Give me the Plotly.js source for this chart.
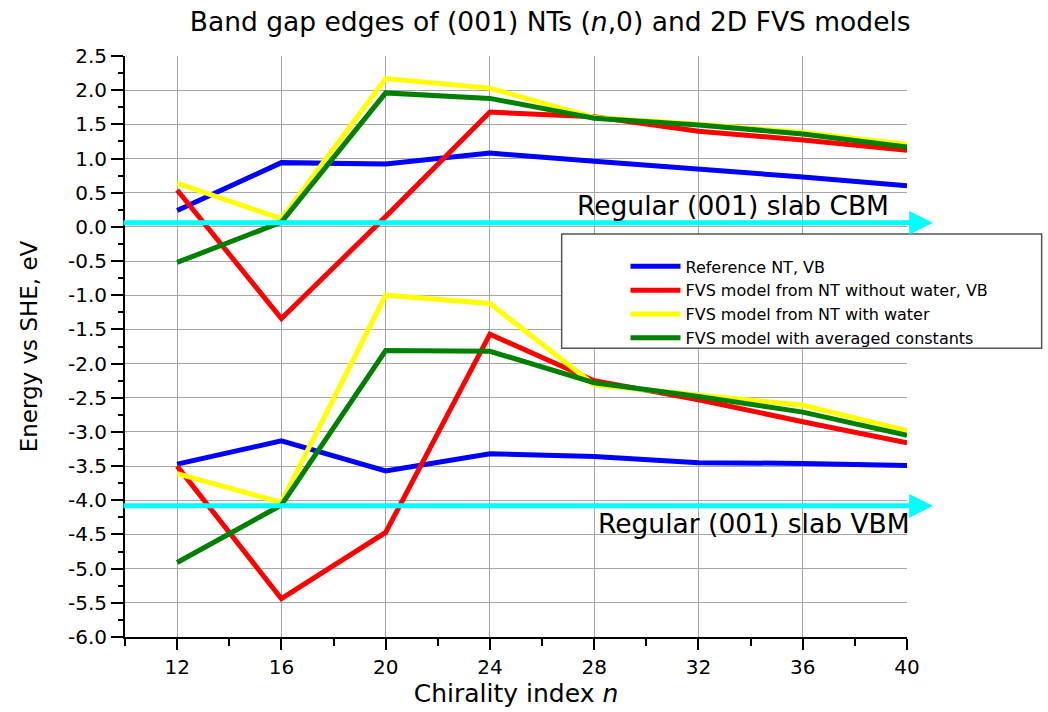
<!DOCTYPE html>
<html><head><meta charset="utf-8">
<script src="https://cdn.plot.ly/plotly-3.0.1.min.js"></script>
<style>html,body{margin:0;padding:0;background:#fff}#chart{width:1048px;height:712px}</style>
</head><body><div id="chart"></div>
<script>
// Chirality index n
const chirality = [12, 16, 20, 24, 28, 32, 36, 40];
// Conduction band (upper group) and valence band (lower group) edges, eV vs SHE
const refCB      = [0.24, 0.94, 0.92, 1.08, 0.96, 0.85, 0.73, 0.60];
const refVB      = [-3.47, -3.13, -3.57, -3.32, -3.36, -3.45, -3.46, -3.49];
const noWaterCB  = [0.54, -1.34, 0.15, 1.68, 1.61, 1.40, 1.27, 1.12];
const noWaterVB  = [-3.50, -5.44, -4.47, -1.57, -2.25, -2.53, -2.85, -3.16];
const waterCB    = [0.64, 0.12, 2.17, 2.03, 1.60, 1.50, 1.38, 1.21];
const waterVB    = [-3.61, -4.03, -1.00, -1.12, -2.31, -2.46, -2.61, -2.98];
const avgCB      = [-0.52, 0.07, 1.96, 1.88, 1.59, 1.49, 1.36, 1.17];
const avgVB      = [-4.91, -4.07, -1.81, -1.82, -2.28, -2.48, -2.71, -3.05];
const seriesNames = ['Reference NT, VB', 'FVS model from NT without water, VB',
                     'FVS model from NT with water', 'FVS model with averaged constants'];
const seriesColors = ['#0000FF', '#FF0000', '#FFFF00', '#008000'];
// Regular (001) slab band edges
const slabLevels = [0.06, -4.08];
const slabLabels = ['Regular (001) slab CBM', 'Regular (001) slab VBM'];
// y tick labels
const yTickVals = [];
for (let v = -6; v <= 2.5001; v += 0.5) yTickVals.push(Math.round(v * 10) / 10);
const yTickText = yTickVals.map(v => v.toFixed(1));

const cbSets = [refCB, noWaterCB, waterCB, avgCB];
const vbSets = [refVB, noWaterVB, waterVB, avgVB];
const traces = [];
for (let i = 0; i < 4; i++) {
  traces.push({x: chirality, y: cbSets[i], mode: 'lines', name: seriesNames[i],
    legendgroup: 'g' + i, showlegend: false,
    line: {color: seriesColors[i], width: 5}});
  traces.push({x: chirality, y: vbSets[i], mode: 'lines', name: seriesNames[i],
    legendgroup: 'g' + i, showlegend: true,
    line: {color: seriesColors[i], width: 5}});
}

const F = 'DejaVu Sans, Verdana, sans-serif';
const annotations = [];
slabLevels.forEach((lv) => {
  annotations.push({x: 1.0332, y: lv, xref: 'paper', yref: 'y', ax: -811, ay: 0,
    axref: 'pixel', ayref: 'pixel', text: '', showarrow: true, arrowhead: 2,
    arrowsize: 0.95, arrowwidth: 5, arrowcolor: '#00FFFF', standoff: 0, startstandoff: 0});
});
annotations.push({x: 0.98, y: 0.742, xref: 'paper', yref: 'paper', xanchor: 'right',
  yanchor: 'middle', showarrow: false, text: slabLabels[0], font: {family: F, size: 26.5, color: '#000'}});
annotations.push({x: 1.006, y: 0.1945, xref: 'paper', yref: 'paper', xanchor: 'right',
  yanchor: 'middle', showarrow: false, text: slabLabels[1], font: {family: F, size: 26.5, color: '#000'}});

const layout = {
  width: 1048, height: 712,
  margin: {l: 125, r: 141, t: 56, b: 75},
  paper_bgcolor: '#fff', plot_bgcolor: '#fff',
  font: {family: F, color: '#000'},
  title: {text: 'Band gap edges of (001) NTs (<i>n</i>,0) and 2D FVS models',
    x: 0.525, xref: 'container', y: 0.969, yref: 'container', yanchor: 'middle', xanchor: 'center',
    font: {family: F, size: 26.5, color: '#000'}},
  xaxis: {range: [10, 40], tick0: 0, dtick: 4, showline: true, linecolor: '#000', linewidth: 2,
    ticks: 'outside', ticklen: 11, tickwidth: 2, tickcolor: '#000',
    showgrid: true, gridcolor: '#a6a6a6', gridwidth: 1, zeroline: false,
    tickfont: {family: F, size: 20, color: '#000'},
    minor: {dtick: 2, ticks: 'outside', ticklen: 7, tickwidth: 2, tickcolor: '#000', showgrid: false},
    title: {text: 'Chirality index <i>n</i>', font: {family: F, size: 25, color: '#000'}, standoff: 6}},
  yaxis: {range: [-6, 2.5], tickmode: 'array', tickvals: yTickVals, ticktext: yTickText,
    showline: true, linecolor: '#000', linewidth: 2,
    ticks: 'outside', ticklen: 12, tickwidth: 2, tickcolor: '#000',
    showgrid: true, gridcolor: '#a6a6a6', gridwidth: 1, zeroline: false,
    tickfont: {family: F, size: 20, color: '#000'},
    minor: {dtick: 0.25, ticks: 'outside', ticklen: 5, tickwidth: 2, tickcolor: '#000', showgrid: false},
    title: {text: 'Energy vs SHE, eV', font: {family: F, size: 23, color: '#000'}, standoff: 24}},
  showlegend: true,
  legend: {x: 0.64, y: 0.667, xanchor: 'left', yanchor: 'top', bgcolor: 'rgba(0,0,0,0)',
    borderwidth: 0, font: {family: F, size: 16, color: '#000'}, itemwidth: 50, tracegroupgap: 0},
  shapes: [{type: 'rect', xref: 'paper', yref: 'paper', x0: 0.5584, x1: 1.1722, y0: 0.4969, y1: 0.6936,
    fillcolor: '#fff', line: {color: '#555', width: 1.5}, layer: 'above'}],
  annotations: annotations
};
Plotly.newPlot('chart', traces, layout, {displayModeBar: false, staticPlot: true});
</script></body></html>
